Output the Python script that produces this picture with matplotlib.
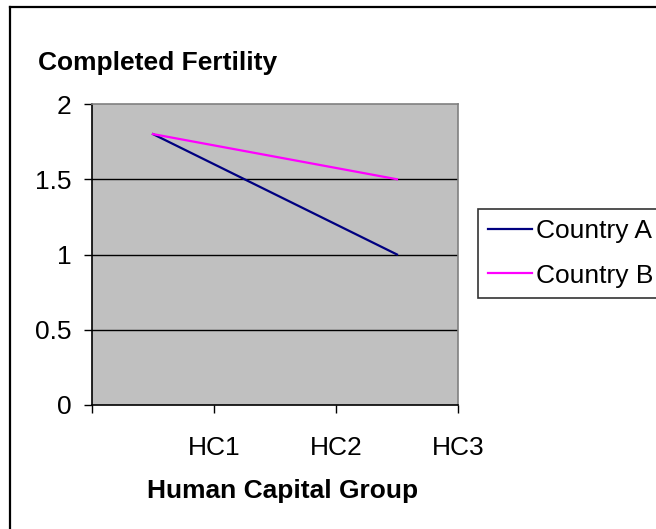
import matplotlib.pyplot as plt
from matplotlib.lines import Line2D

plt.rcParams['font.family'] = ['Liberation Sans', 'DejaVu Sans']

groups = ['HC1', 'HC2', 'HC3']
country_a = [1.8, 1.4, 1.0]
country_b = [1.8, 1.65, 1.5]
yticks = [0, 0.5, 1, 1.5, 2]
ytick_labels = ['0', '0.5', '1', '1.5', '2']

W, H = 656, 529
fig = plt.figure(figsize=(W / 100, H / 100), dpi=100)
ax = fig.add_axes([92 / W, 1 - 405 / H, (458 - 92) / W, (405 - 104) / H])
ax.set_facecolor('#c0c0c0')

# data sit in the middle of each category slot
xpos = [i + 0.5 for i in range(len(groups))]
ax.plot(xpos, country_a, color='#000080', lw=1.6, label='Country A')
ax.plot(xpos, country_b, color='#ff00ff', lw=1.6, label='Country B')

ax.set_xlim(0, 3)
ax.set_ylim(0, 2)
ax.set_xticks([0, 1, 2, 3])
ax.set_xticklabels([''] + groups)
ax.set_yticks(yticks)
ax.set_yticklabels(ytick_labels)
for y in [0.5, 1, 1.5]:
    ax.axhline(y, color='black', lw=1, zorder=1)

ax.tick_params(axis='both', labelsize=19, length=6, width=1, direction='out')
ax.tick_params(axis='x', pad=16)
ax.tick_params(axis='y', pad=9)
ax.spines['top'].set_color('#808080')
ax.spines['right'].set_color('#808080')
ax.spines['left'].set_color('black')
ax.spines['bottom'].set_color('black')
for s in ax.spines.values():
    s.set_linewidth(1.2)

fig.text(38 / W, 1 - 70 / H, 'Completed Fertility', fontsize=19,
         fontweight='bold', ha='left', va='baseline')
fig.text(283 / W, 1 - 498 / H, 'Human Capital Group', fontsize=19,
         fontweight='bold', ha='center', va='baseline')

# legend runs off the right edge, as in the original
leg = fig.legend(loc='upper left', bbox_to_anchor=(478 / W, 1 - 209 / H),
                 fontsize=19, frameon=True, fancybox=False, edgecolor='black',
                 handlelength=1.65, handletextpad=0.15, labelspacing=0.78,
                 borderpad=0.38, borderaxespad=0)
leg.get_frame().set_linewidth(1.2)

# outer chart border (runs off the right and bottom of the picture)
fig.add_artist(Line2D([10 / W, 10 / W], [0, 1 - 7 / H], color='black', lw=1.6))
fig.add_artist(Line2D([10 / W, 1], [1 - 7 / H, 1 - 7 / H], color='black', lw=1.6))

fig.savefig('out.png', dpi=100)
